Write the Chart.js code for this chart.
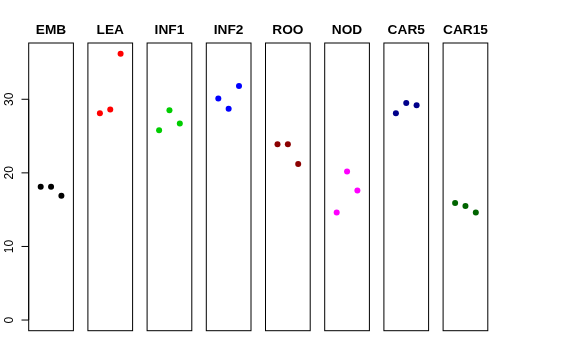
<!DOCTYPE html>
<html>
<head>
<meta charset="utf-8">
<script src="https://cdn.jsdelivr.net/npm/chart.js@4.4.1/dist/chart.umd.min.js"></script>
<style>
  html, body { margin: 0; padding: 0; background: #ffffff; }
  #wrap { position: relative; width: 576px; height: 360px; overflow: hidden; background: #ffffff; }
  #wrap canvas { position: absolute; left: 0; top: 0; }
</style>
</head>
<body>
<div id="wrap"></div>
<script>
// ---- data ----
const categories = ["EMB", "LEA", "INF1", "INF2", "ROO", "NOD", "CAR5", "CAR15"];
const colors = ["#000000", "#FF0000", "#00CD00", "#0000FF", "#8B0000", "#FF00FF", "#00008B", "#006400"];
const replicate = [1, 2, 3];
const EMB   = [18.1, 18.1, 16.9];
const LEA   = [28.1, 28.6, 36.2];
const INF1  = [25.8, 28.5, 26.7];
const INF2  = [30.1, 28.7, 31.8];
const ROO   = [23.9, 23.9, 21.2];
const NOD   = [14.6, 20.2, 17.6];
const CAR5  = [28.1, 29.5, 29.2];
const CAR15 = [15.9, 15.5, 14.6];
const yTicks = [0, 10, 20, 30];
const seriesValues = [EMB, LEA, INF1, INF2, ROO, NOD, CAR5, CAR15];

// ---- layout ----
const W = 576, H = 360;
const panelLeft0 = 28.7, panelStep = 59.2, panelWidth = 44.7;
const panelTop = 43, panelBottom = 330.7;
const dataMax = Math.max(...seriesValues.flat());
const yMin = 0 - 0.04 * dataMax, yMax = dataMax * 1.04;
const xMin = 0 - 0.04 * 4, xMax = 4 + 0.04 * 4;

const wrap = document.getElementById('wrap');

categories.forEach((cat, i) => {
  const canvas = document.createElement('canvas');
  canvas.width = W; canvas.height = H;
  canvas.style.width = W + 'px'; canvas.style.height = H + 'px';
  wrap.appendChild(canvas);
  const left = panelLeft0 + i * panelStep;
  const right = left + panelWidth;

  const panelPlugin = {
    id: 'panel' + i,
    afterDraw(chart) {
      const ctx = chart.ctx;
      const a = chart.chartArea;
      ctx.save();
      // box
      ctx.strokeStyle = '#000000';
      ctx.lineWidth = 1;
      ctx.strokeRect(a.left, a.top, a.right - a.left, a.bottom - a.top);
      // title
      ctx.fillStyle = '#000000';
      ctx.font = 'bold 13.7px "Liberation Sans", Arial, sans-serif';
      ctx.textAlign = 'center';
      ctx.textBaseline = 'alphabetic';
      ctx.fillText(cat, (a.left + a.right) / 2, 33.6);
      // y axis on first panel
      if (i === 0) {
        const ys = chart.scales.y;
        const p0 = ys.getPixelForValue(yTicks[0]);
        const p1 = ys.getPixelForValue(yTicks[yTicks.length - 1]);
        ctx.beginPath();
        ctx.moveTo(a.left, p0); ctx.lineTo(a.left, p1);
        ctx.stroke();
        ctx.font = '12px "Liberation Sans", Arial, sans-serif';
        yTicks.forEach(t => {
          const py = ys.getPixelForValue(t);
          ctx.beginPath();
          ctx.moveTo(a.left - 7.2, py); ctx.lineTo(a.left, py);
          ctx.stroke();
          ctx.save();
          ctx.translate(12.7, py);
          ctx.rotate(-Math.PI / 2);
          ctx.textAlign = 'center';
          ctx.textBaseline = 'alphabetic';
          ctx.fillText(String(t), 0, 0);
          ctx.restore();
        });
      }
      ctx.restore();
    }
  };

  new Chart(canvas, {
    type: 'scatter',
    data: {
      datasets: [{
        label: cat,
        data: replicate.map((x, j) => ({ x: x, y: seriesValues[i][j] })),
        backgroundColor: colors[i],
        borderWidth: 0,
        pointRadius: 3,
        pointHoverRadius: 3
      }]
    },
    options: {
      responsive: false,
      animation: false,
      devicePixelRatio: 1,
      layout: { padding: { left: left, right: W - right, top: panelTop, bottom: H - panelBottom } },
      plugins: { legend: { display: false }, tooltip: { enabled: false }, title: { display: false } },
      scales: {
        x: { type: 'linear', min: xMin, max: xMax, display: false },
        y: { type: 'linear', min: yMin, max: yMax, display: false }
      }
    },
    plugins: [panelPlugin]
  });
});
</script>
</body>
</html>
